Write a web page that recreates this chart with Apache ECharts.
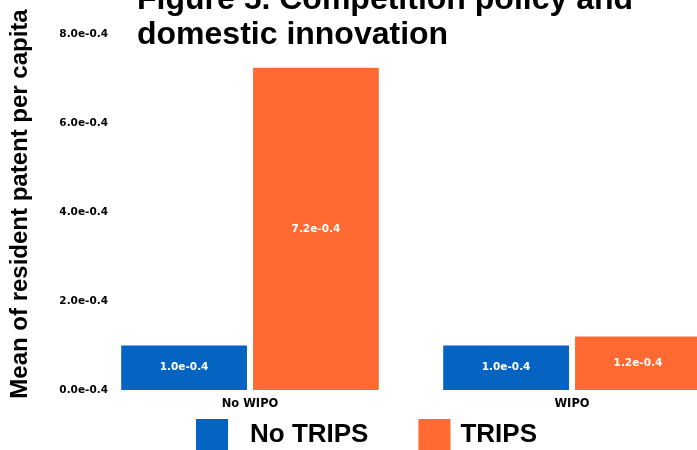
<!DOCTYPE html>
<html>
<head>
<meta charset="utf-8">
<script src="https://cdn.jsdelivr.net/npm/echarts@6/dist/echarts.min.js"></script>
<style>html,body{margin:0;padding:0;background:#fff;overflow:hidden;width:697px;height:450px;}#chart{width:733px;height:450px;}</style>
</head>
<body>
<div id="chart"></div>
<script>
var categories = ['No WIPO', 'WIPO'];
var seriesNames = ['No TRIPS', 'TRIPS'];
var noTrips = [1.0, 1.0];
var trips = [7.24, 1.2];
var yTicks = [0, 2, 4, 6, 8];
var titleText = 'Figure 5. Competition policy and\ndomestic innovation';
var yAxisName = 'Mean of resident patent per capita';
var colors = ['#0563c1', '#ff6a33'];

function fmt(v) { return v.toFixed(1) + 'e-0.4'; }

var chart = echarts.init(document.getElementById('chart'), null, {renderer: 'canvas'});
var labelStyle = {
  show: true, position: 'inside', color: '#fff',
  fontFamily: 'DejaVu Sans', fontWeight: 'bold', fontSize: 10.5,
  formatter: function (p) { return fmt(p.value); }
};
chart.setOption({
  animation: false,
  backgroundColor: '#fff',
  title: {
    text: titleText, left: 137, top: -17, padding: 0,
    textStyle: {fontFamily: 'Liberation Sans', fontWeight: 'bold', fontSize: 32, lineHeight: 35, color: '#000'}
  },
  legend: {
    left: 196, top: 419, itemWidth: 32, itemHeight: 32, itemGap: 50, padding: 0,
    icon: 'rect',
    textStyle: {fontFamily: 'Liberation Sans', fontWeight: 'bold', fontSize: 26, color: '#000'},
    data: [
      {name: seriesNames[0], textStyle: {padding: [0, 0, 0, 17]}},
      {name: seriesNames[1], textStyle: {padding: [0, 0, 0, 5]}}
    ]
  },
  grid: {left: 89, right: 0, top: 34, bottom: 60},
  xAxis: {
    type: 'category', data: categories,
    axisLine: {show: false}, axisTick: {show: false},
    axisLabel: {margin: 8, color: '#000', fontFamily: 'DejaVu Sans', fontWeight: 'bold', fontSize: 11.5}
  },
  yAxis: {
    type: 'value', min: yTicks[0], max: yTicks[yTicks.length - 1], interval: 2,
    name: yAxisName, nameLocation: 'middle', nameGap: 57, nameRotate: 90,
    nameTextStyle: {fontFamily: 'Liberation Sans', fontWeight: 'bold', fontSize: 24, color: '#000', padding: [0, 0, 0, 16]},
    axisLine: {show: false}, axisTick: {show: false}, splitLine: {show: false},
    axisLabel: {margin: -19, color: '#000', fontFamily: 'DejaVu Sans', fontWeight: 'bold', fontSize: 10.5,
      formatter: function (v) { return fmt(v); }}
  },
  series: [
    {name: seriesNames[0], type: 'bar', data: noTrips, itemStyle: {color: colors[0]}, barCategoryGap: '20%', barGap: '4.8%', label: labelStyle},
    {name: seriesNames[1], type: 'bar', data: trips, itemStyle: {color: colors[1]}, barCategoryGap: '20%', barGap: '4.8%', label: labelStyle}
  ]
});
</script>
</body>
</html>
